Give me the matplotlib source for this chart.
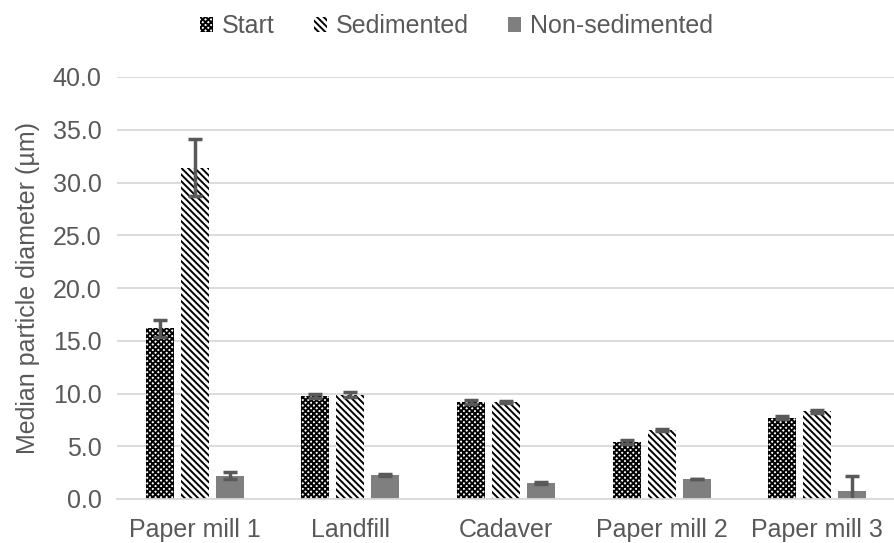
import numpy as np
import matplotlib.pyplot as plt

plt.rcParams['font.family'] = ['Liberation Sans', 'DejaVu Sans']
plt.rcParams['hatch.linewidth'] = 1.4

# median particle diameter per sample site
sites = ['Paper mill 1', 'Landfill', 'Cadaver', 'Paper mill 2', 'Paper mill 3']
start = [16.2, 9.8, 9.2, 5.4, 7.7]
start_err = [0.8, 0.2, 0.15, 0.15, 0.15]
sedimented = [31.4, 9.9, 9.2, 6.5, 8.3]
sedimented_err = [2.7, 0.25, 0.1, 0.1, 0.15]
non_sedimented = [2.2, 2.3, 1.5, 1.9, 0.8]
non_sedimented_err = [0.35, 0.1, 0.1, 0.0, 1.35]

text_col = '#595959'
grid_col = '#d9d9d9'
fs = 18

fig = plt.figure(figsize=(8.95, 5.43), dpi=100)
ax = fig.add_axes([117 / 895, 1 - 499 / 543, 1 - 117 / 895, (499 - 77) / 543])

x = np.arange(len(sites))
w = 0.18
step = 0.225
err_kw = dict(ecolor=text_col, elinewidth=2.5, capsize=5, capthick=2.5)

ax.bar(x - step, start, w, yerr=start_err, facecolor='white', edgecolor='black',
       hatch='xxxxxx', linewidth=0, label='Start', error_kw=err_kw, zorder=2)
ax.bar(x, sedimented, w, yerr=sedimented_err, facecolor='white', edgecolor='black',
       hatch='\\' * 5, linewidth=0, label='Sedimented', error_kw=err_kw, zorder=2)
ax.bar(x + step, non_sedimented, w, yerr=non_sedimented_err, color='#7f7f7f',
       linewidth=0, label='Non-sedimented', error_kw=err_kw, zorder=2)

ax.set_xlim(-0.5, len(sites) - 0.5)
ax.set_ylim(0, 40)
ax.set_yticks(np.arange(0, 41, 5))
ax.set_yticklabels([f'{v:.1f}' for v in np.arange(0, 41, 5)])
ax.set_xticks(x)
ax.set_xticklabels(sites)
ax.yaxis.grid(True, color=grid_col, linewidth=1.3, zorder=0)
ax.set_axisbelow(True)
for s in ['top', 'right', 'left']:
    ax.spines[s].set_visible(False)
ax.spines['bottom'].set_color(grid_col)
ax.spines['bottom'].set_linewidth(1.3)
ax.tick_params(axis='both', length=0, colors=text_col, labelsize=fs)
ax.tick_params(axis='x', pad=14)
ax.tick_params(axis='y', pad=11)
ax.set_ylabel('Median particle diameter (µm)', color=text_col, fontsize=fs, labelpad=9)

leg = fig.legend(loc='upper center', bbox_to_anchor=(0.51, 1.015), ncol=3, frameon=False,
                 fontsize=fs, handlelength=0.5, handleheight=0.5, handletextpad=0.35,
                 columnspacing=1.6)
for t in leg.get_texts():
    t.set_color(text_col)

fig.savefig('out.png', dpi=100)
